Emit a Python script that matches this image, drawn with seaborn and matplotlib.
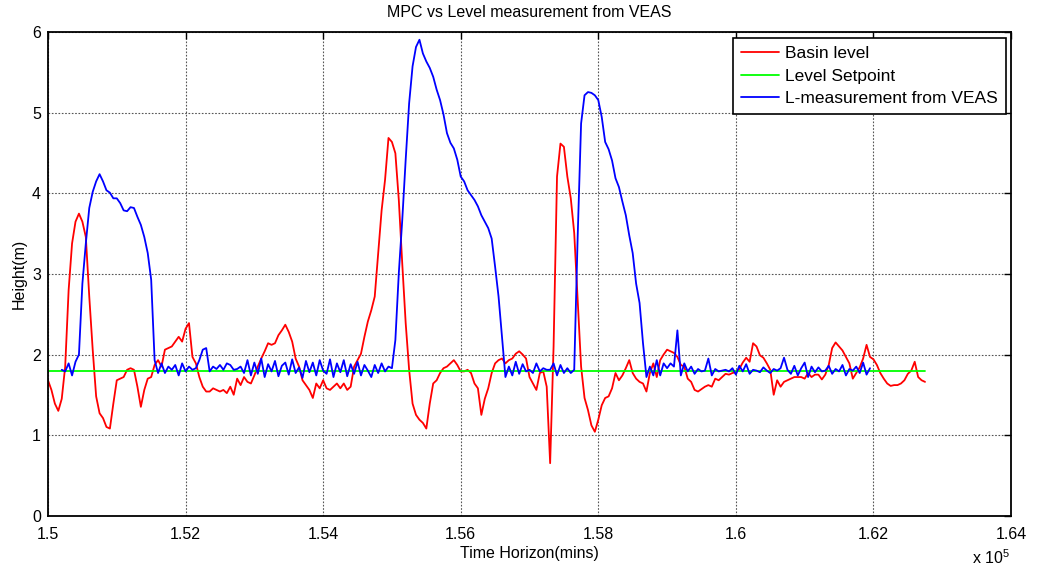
import numpy as np
import pandas as pd
import matplotlib
matplotlib.use("Agg")
import matplotlib.pyplot as plt
from matplotlib.ticker import FuncFormatter, FixedLocator
import seaborn as sns

# ---------------- data ----------------
time_basin = np.arange(150000, 162800, 50)          # minutes
basin_level = [
    1.68, 1.56, 1.39, 1.30, 1.45, 1.85, 2.80, 3.38, 3.65, 3.75,
    3.65, 3.46, 2.72, 2.06, 1.48, 1.27, 1.21, 1.10, 1.08, 1.39,
    1.68, 1.70, 1.72, 1.81, 1.83, 1.81, 1.60, 1.35, 1.56, 1.70,
    1.72, 1.87, 1.93, 1.85, 2.06, 2.08, 2.10, 2.16, 2.22, 2.16,
    2.32, 2.39, 1.97, 1.89, 1.72, 1.60, 1.54, 1.54, 1.58, 1.56,
    1.54, 1.56, 1.52, 1.60, 1.50, 1.70, 1.62, 1.72, 1.66, 1.64,
    1.74, 1.85, 1.95, 2.04, 2.14, 2.12, 2.14, 2.24, 2.30, 2.37,
    2.28, 2.16, 1.95, 1.85, 1.68, 1.62, 1.56, 1.46, 1.64, 1.58,
    1.68, 1.58, 1.56, 1.60, 1.64, 1.58, 1.64, 1.56, 1.60, 1.85,
    1.93, 2.01, 2.22, 2.41, 2.55, 2.72, 3.26, 3.79, 4.17, 4.69,
    4.64, 4.50, 3.92, 3.13, 2.39, 1.81, 1.39, 1.25, 1.19, 1.15,
    1.08, 1.39, 1.64, 1.68, 1.77, 1.83, 1.85, 1.89, 1.93, 1.87,
    1.79, 1.79, 1.81, 1.77, 1.64, 1.58, 1.25, 1.45, 1.58, 1.77,
    1.89, 1.93, 1.95, 1.89, 1.93, 1.95, 2.01, 2.04, 2.00, 1.95,
    1.72, 1.64, 1.56, 1.77, 1.79, 1.60, 0.65, 2.10, 4.21, 4.62,
    4.58, 4.21, 3.94, 3.51, 2.68, 1.85, 1.46, 1.31, 1.12, 1.04,
    1.19, 1.37, 1.46, 1.48, 1.58, 1.77, 1.68, 1.74, 1.83, 1.93,
    1.77, 1.70, 1.66, 1.64, 1.54, 1.77, 1.89, 1.72, 1.93, 2.00,
    2.06, 2.04, 2.02, 1.97, 1.87, 1.85, 1.70, 1.66, 1.56, 1.54,
    1.57, 1.60, 1.62, 1.60, 1.70, 1.68, 1.72, 1.76, 1.75, 1.77,
    1.78, 1.82, 1.90, 1.96, 1.91, 2.14, 2.10, 1.99, 1.96, 1.89,
    1.81, 1.50, 1.68, 1.60, 1.66, 1.68, 1.70, 1.72, 1.72, 1.72,
    1.70, 1.77, 1.72, 1.75, 1.75, 1.69, 1.75, 1.87, 2.08, 2.15,
    2.10, 2.05, 1.97, 1.89, 1.70, 1.77, 1.84, 1.95, 2.12, 1.97,
    1.94, 1.87, 1.77, 1.70, 1.64, 1.61, 1.62, 1.62, 1.64, 1.68,
    1.76, 1.80, 1.91, 1.72, 1.68, 1.66,
]

time_setpoint = [150000, 162750]
level_setpoint = [1.8, 1.8]

time_veas = np.arange(150200, 162000, 50)           # minutes
veas_level = [
    1.81, 1.79, 1.89, 1.74, 1.91, 2.00,
    2.88, 3.38, 3.82, 4.02, 4.15, 4.24, 4.15, 4.04, 4.01, 3.94,
    3.94, 3.88, 3.79, 3.78, 3.83, 3.82, 3.71, 3.61, 3.46, 3.26,
    2.93, 1.93, 1.77, 1.89, 1.77, 1.85, 1.81, 1.87, 1.74, 1.89,
    1.79, 1.85, 1.81, 1.83, 1.93, 2.06, 2.08, 1.79, 1.85, 1.82,
    1.87, 1.81, 1.89, 1.87, 1.81, 1.82, 1.85, 1.77, 1.93, 1.74,
    1.90, 1.76, 1.95, 1.72, 1.88, 1.79, 1.92, 1.73, 1.86, 1.90,
    1.75, 1.94, 1.77, 1.84, 1.71, 1.92, 1.78, 1.90, 1.74, 1.93,
    1.80, 1.76, 1.94, 1.72, 1.89, 1.78, 1.93, 1.73, 1.88, 1.76,
    1.91, 1.74, 1.87, 1.80, 1.72, 1.87, 1.77, 1.89, 1.79, 1.85,
    1.83, 2.18, 3.01, 3.67, 4.42, 5.12, 5.58, 5.82, 5.91, 5.74,
    5.64, 5.56, 5.45, 5.29, 5.16, 4.98, 4.75, 4.63, 4.56, 4.42,
    4.21, 4.15, 4.04, 3.98, 3.92, 3.84, 3.73, 3.65, 3.57, 3.44,
    3.09, 2.72, 2.22, 1.72, 1.85, 1.74, 1.91, 1.76, 1.88, 1.79,
    1.81, 1.77, 1.89, 1.79, 1.83, 1.81, 1.81, 1.89, 1.74, 1.87,
    1.77, 1.83, 1.77, 1.81, 3.46, 4.87, 5.22, 5.26, 5.25, 5.22,
    5.16, 4.95, 4.64, 4.55, 4.41, 4.19, 4.08, 3.90, 3.73, 3.48,
    3.26, 2.88, 2.64, 2.14, 1.72, 1.85, 1.74, 1.93, 1.74, 1.89,
    1.83, 1.89, 1.85, 2.30, 1.74, 1.89, 1.79, 1.85, 1.76, 1.82,
    1.79, 1.80, 1.95, 1.74, 1.82, 1.79, 1.80, 1.81, 1.79, 1.83,
    1.75, 1.86, 1.79, 1.88, 1.76, 1.81, 1.80, 1.78, 1.84, 1.80,
    1.77, 1.82, 1.80, 1.83, 1.96, 1.81, 1.76, 1.86, 1.74, 1.83,
    1.90, 1.72, 1.85, 1.78, 1.84, 1.79, 1.80, 1.86, 1.76, 1.82,
    1.79, 1.87, 1.74, 1.82, 1.80, 1.85, 1.77, 1.90, 1.75, 1.83,
]

series_labels = ["Basin level", "Level Setpoint", "L-measurement from VEAS"]
x_ticks = np.arange(150000, 164001, 2000)
y_ticks = [0, 1, 2, 3, 4, 5, 6]

# ---------------- styling ----------------
sns.set_theme(style="white")
plt.rcParams["font.family"] = ["Liberation Sans", "DejaVu Sans"]
plt.rcParams["mathtext.fontset"] = "custom"
plt.rcParams["mathtext.rm"] = "Liberation Sans"
plt.rcParams["text.color"] = "black"
plt.rcParams["axes.labelcolor"] = "black"
plt.rcParams["xtick.color"] = "black"
plt.rcParams["ytick.color"] = "black"

fig = plt.figure(figsize=(10.41, 5.69), dpi=100)
ax = fig.add_axes([0.0461, 0.094, 0.9251, 0.8489])

lw = 1.3
sns.lineplot(x=time_basin, y=basin_level, color=(1, 0, 0), linewidth=lw,
             label=series_labels[0], ax=ax, estimator=None, sort=False)
sns.lineplot(x=time_setpoint, y=level_setpoint, color=(0, 1, 0), linewidth=lw,
             label=series_labels[1], ax=ax, estimator=None, sort=False)
sns.lineplot(x=time_veas, y=veas_level, color=(0, 0, 1), linewidth=lw,
             label=series_labels[2], ax=ax, estimator=None, sort=False)

ax.set_xlim(150000, 164000)
ax.set_ylim(0, 6)
ax.xaxis.set_major_locator(FixedLocator(x_ticks))
ax.yaxis.set_major_locator(FixedLocator(y_ticks))
ax.xaxis.set_major_formatter(FuncFormatter(lambda v, p: f"{v / 1e5:g}"))

ax.grid(True, color="#555555", linestyle=(0, (1.5, 1.5)), linewidth=0.8)
for s in ax.spines.values():
    s.set_color("black")
    s.set_linewidth(1.3)
ax.tick_params(direction="in", length=5, width=1, top=True, right=True,
               labelsize=11.5, colors="black")
ax.tick_params(axis="x", pad=8)
ax.tick_params(axis="y", pad=5)

ax.set_title("MPC vs Level measurement from VEAS", fontsize=11.5, pad=11, color="black")
ax.set_xlabel("Time Horizon(mins)", fontsize=11.5, labelpad=3)
ax.set_ylabel("Height(m)", fontsize=11.5, labelpad=4)
fig.text(0.934, 0.004, r"x 10$^{\mathregular{5}}$", fontsize=11.5, ha="left", va="bottom",
         color="black")

leg = ax.legend(loc="upper right", bbox_to_anchor=(0.9948, 0.9876), borderaxespad=0,
                fontsize=12.5, frameon=True, fancybox=False, edgecolor="black",
                handlelength=2.2, handletextpad=0.35, labelspacing=0.42, borderpad=0.45,
                labelcolor="black")
leg.get_frame().set_linewidth(1.2)
leg.get_frame().set_alpha(1)

fig.savefig("out.png", dpi=100)
